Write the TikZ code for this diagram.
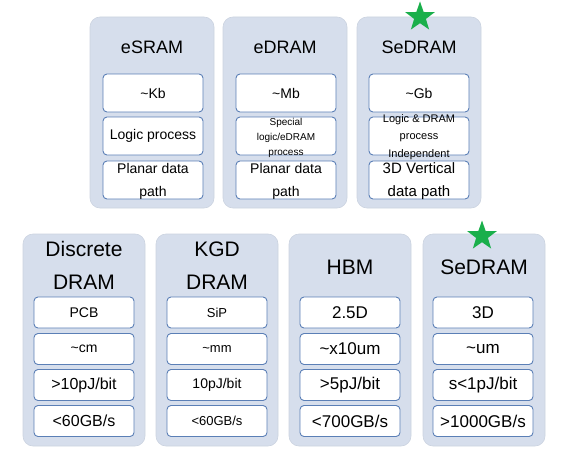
\documentclass[tikz,border=0pt]{standalone}
\usepackage{fontspec}
\setmainfont{Liberation Sans}
\usetikzlibrary{shapes.geometric}
\definecolor{panelfill}{HTML}{D6DEEC}
\definecolor{boxline}{HTML}{5B7FB6}
\definecolor{stargreen}{HTML}{1AAF4B}
\tikzset{
  panel/.style={fill=panelfill, draw=panelfill!95!black, line width=0.6pt, rounded corners=10pt, inner sep=0pt},
  toppanel/.style={panel, minimum width=124pt, minimum height=191pt},
  botpanel/.style={panel, minimum width=122pt, minimum height=212pt},
  cell/.style={fill=white, draw=boxline, line width=0.9pt, rounded corners=4pt, inner sep=0pt, minimum width=100pt},
  topcell/.style={cell, minimum height=38pt},
  botcell/.style={cell, minimum height=31pt},
  txt/.style={align=center, inner sep=0pt, text=black},
  greenstar/.style={star, star points=5, star point ratio=2.5, fill=stargreen, draw=none, minimum size=31pt, inner sep=0pt},
}
\newcommand{\fs}[2]{\fontsize{#1}{#2}\selectfont}
\begin{document}
\begin{tikzpicture}[x=1pt, y=-1pt]
\useasboundingbox (0,0) rectangle (569,460);
% ---------- top row ----------
\node[toppanel] (p1) at (152,112.5) {};
\node[toppanel] (p2) at (285,112.5) {};
\node[toppanel] (p3) at (419,112.5) {};
\node[txt, font=\fs{18}{22}] (t1) at (152,47) {eSRAM};
\node[txt, font=\fs{18}{22}] (t2) at (285,47) {eDRAM};
\node[txt, font=\fs{18}{22}] (t3) at (419,47) {SeDRAM};
% eSRAM cells
\node[topcell] (a1) at (153,93) {};
\node[topcell] (a2) at (153,136) {};
\node[topcell] (a3) at (153,180) {};
\node[txt, font=\fs{14}{17}] (a1t) at (a1) {\textasciitilde Kb};
\node[txt, font=\fs{14}{17}] (a2t) at (a2) {Logic process};
\node[txt, font=\fs{14}{23}] (a3t) at (153,181.5) {Planar data\\path};
% eDRAM cells
\node[topcell] (b1) at (286,93) {};
\node[topcell] (b2) at (286,136) {};
\node[topcell] (b3) at (286,180) {};
\node[txt, font=\fs{14}{17}] (b1t) at (b1) {\textasciitilde Mb};
\node[txt, font=\fs{10}{15}] (b2t) at (286,138) {Special\\logic/eDRAM\\process};
\node[txt, font=\fs{14}{23}] (b3t) at (286,181.5) {Planar data\\path};
% SeDRAM cells
\node[topcell] (c1) at (419,93) {};
\node[topcell] (c2) at (419,136) {};
\node[topcell] (c3) at (419,180) {};
\node[txt, font=\fs{14}{17}] (c1t) at (c1) {\textasciitilde Gb};
\node[txt, font=\fs{11}{17.5}] (c2t) at (419,137) {Logic \& DRAM\\process\\Independent};
\node[txt, font=\fs{15}{23}] (c3t) at (419,181) {3D Vertical\\data path};
% ---------- bottom row ----------
\node[botpanel] (q1) at (84,340) {};
\node[botpanel] (q2) at (217,340) {};
\node[botpanel] (q3) at (350,340) {};
\node[botpanel] (q4) at (484,340) {};
\node[txt, font=\fs{21}{33}] (u1) at (84,265.5) {Discrete\\DRAM};
\node[txt, font=\fs{21}{33}] (u2) at (217,265.5) {KGD\\DRAM};
\node[txt, font=\fs{21}{25}] (u3) at (350,267) {HBM};
\node[txt, font=\fs{21}{25}] (u4) at (484,267) {SeDRAM};
% Discrete DRAM
\node[botcell] (d1) at (84,312.5) {};
\node[botcell] (d2) at (84,349) {};
\node[botcell] (d3) at (84,385) {};
\node[botcell] (d4) at (84,421) {};
\node[txt, font=\fs{14}{17}] (d1t) at (d1) {PCB};
\node[txt, font=\fs{14}{17}] (d2t) at (d2) {\textasciitilde cm};
\node[txt, font=\fs{16}{19}] (d3t) at (d3) {>10pJ/bit};
\node[txt, font=\fs{16}{19}] (d4t) at (d4) {<60GB/s};
% KGD DRAM
\node[botcell] (e1) at (217,312.5) {};
\node[botcell] (e2) at (217,349) {};
\node[botcell] (e3) at (217,385) {};
\node[botcell] (e4) at (217,421) {};
\node[txt, font=\fs{13}{16}] (e1t) at (e1) {SiP};
\node[txt, font=\fs{13}{16}] (e2t) at (e2) {\textasciitilde mm};
\node[txt, font=\fs{14}{17}] (e3t) at (e3) {10pJ/bit};
\node[txt, font=\fs{13}{16}] (e4t) at (e4) {<60GB/s};
% HBM
\node[botcell] (f1) at (350,312.5) {};
\node[botcell] (f2) at (350,349) {};
\node[botcell] (f3) at (350,385) {};
\node[botcell] (f4) at (350,421) {};
\node[txt, font=\fs{17}{20}] (f1t) at (f1) {2.5D};
\node[txt, font=\fs{17}{20}] (f2t) at (f2) {\textasciitilde x10um};
\node[txt, font=\fs{17}{20}] (f3t) at (f3) {>5pJ/bit};
\node[txt, font=\fs{17}{20}] (f4t) at (f4) {<700GB/s};
% SeDRAM
\node[botcell] (g1) at (483,312.5) {};
\node[botcell] (g2) at (483,349) {};
\node[botcell] (g3) at (483,385) {};
\node[botcell] (g4) at (483,421) {};
\node[txt, font=\fs{17}{20}] (g1t) at (g1) {3D};
\node[txt, font=\fs{17}{20}] (g2t) at (g2) {\textasciitilde um};
\node[txt, font=\fs{17}{20}] (g3t) at (g3) {s<1pJ/bit};
\node[txt, font=\fs{17}{20}] (g4t) at (g4) {>1000GB/s};
% stars
\node[greenstar] (s1) at (420,17) {};
\node[greenstar] (s2) at (482,236) {};
\end{tikzpicture}
\end{document}
